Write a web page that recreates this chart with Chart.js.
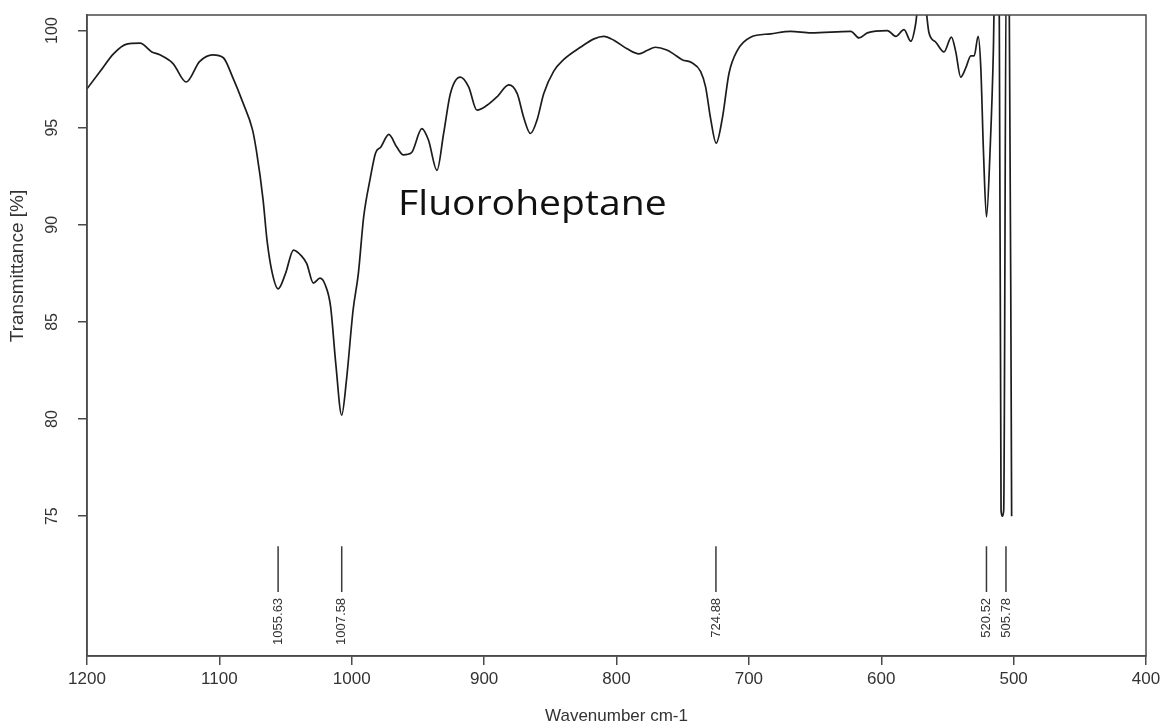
<!DOCTYPE html>
<html lang="en">
<head>
    <meta charset="UTF-8">
    <meta name="viewport" content="width=device-width, initial-scale=1.0">
    <script src="https://cdn.jsdelivr.net/npm/chart.js"></script>
    <style>
        body {
            margin: 0;
            background: #ffffff;
        }
        canvas#irChart {
            display: block;
        }
    </style>
</head>
<body>
    <canvas id="irChart" width="1165" height="727"></canvas>

    <script>
        // spectrum (wavenumber, transmittance %)
        const wavenumbers = [
            1200, 1190, 1180, 1170, 1160, 1151, 1145, 1135, 1125, 1115, 1105, 1097, 1090, 1082, 1075, 1072,
            1067, 1064, 1060, 1055.6, 1050, 1044, 1038, 1034, 1029, 1024, 1020, 1016, 1012, 1007.6, 1004, 999,
            995, 991, 986, 982, 978, 972, 966, 961, 955, 947, 942, 935.6, 930.6, 925.5, 918, 911.7,
            905.4, 897.8, 890, 881.4, 875, 870, 865, 860, 855, 847.5, 840, 827, 817, 809.6, 802, 792,
            783, 777, 770.6, 762, 757, 750.4, 743, 736.5, 732.7, 729, 724.7, 720, 715, 708.8, 698.7, 683.6,
            668.4, 653, 623, 616.8, 610.5, 595.4, 589, 582.8, 577.7, 574, 572, 568, 566, 564, 558.8, 552.6,
            547, 543.7, 540, 536, 532.3, 529.8, 526.8, 524.8, 522.8, 520.5, 517.8, 515.3, 514, 511, 509.5, 508.5,
            507.5, 505.5, 503.5, 501.5
        ];
        const transmittance = [
            97.0, 97.9, 98.8, 99.3, 99.35, 98.9, 98.75, 98.3, 97.35, 98.4, 98.75, 98.6, 97.6, 96.25, 94.9, 93.8,
            91.3, 89.2, 87.5, 86.7, 87.5, 88.7, 88.4, 88.0, 87.0, 87.25, 86.9, 85.8, 82.8, 80.2, 82.0, 85.6,
            87.5, 90.4, 92.4, 93.7, 94.0, 94.65, 94.0, 93.6, 93.7, 94.95, 94.35, 92.8, 94.7, 96.75, 97.6, 97.1,
            95.9, 96.15, 96.6, 97.2, 96.75, 95.5, 94.7, 95.4, 96.75, 97.9, 98.5, 99.15, 99.57, 99.7, 99.5, 99.06,
            98.8, 98.97, 99.14, 99.0, 98.8, 98.5, 98.34, 97.9, 97.1, 95.5, 94.2, 95.5, 97.8, 98.97, 99.66, 99.83,
            99.96, 99.88, 99.96, 99.62, 99.88, 100.0, 99.7, 100.05, 99.45, 100.35, 101.5, 102.0, 101.0, 99.9, 99.4, 98.9,
            99.66, 98.9, 97.6, 98.1, 98.7, 98.7, 99.7, 98.1, 93.8, 90.4, 93.8, 98.97, 104, 104, 75.3, 75.0,
            75.3, 104, 104, 75.0
        ];

        // labelled peaks
        const peakPositions = [1055.63, 1007.58, 724.88, 520.52, 505.78];
        const peakLabels = ['1055.63', '1007.58', '724.88', '520.52', '505.78'];

        // tick labels
        const xTicks = [1200, 1100, 1000, 900, 800, 700, 600, 500, 400];
        const yTicks = [75, 80, 85, 90, 95, 100];

        const FONT = '"Liberation Sans", Arial, sans-serif';
        const markTop = 73.45;    // top of the peak marker segments
        const markBottom = 71.1;  // bottom of the peak marker segments

        const spectrum = wavenumbers.map(function (w, i) {
            return { x: w, y: transmittance[i] };
        });

        const datasets = [{
            label: 'Fluoroheptane',
            data: spectrum,
            borderColor: '#1c1c1c',
            borderWidth: 1.7,
            pointRadius: 0,
            fill: false,
            cubicInterpolationMode: 'monotone'
        }];

        peakPositions.forEach(function (p) {
            datasets.push({
                label: 'peak ' + p,
                data: [{ x: p, y: markTop }, { x: p, y: markBottom }],
                borderColor: '#3a3a3a',
                borderWidth: 1.5,
                pointRadius: 0,
                fill: false
            });
        });

        // frame, rotated y labels, y title, peak labels and the compound name
        const extras = {
            id: 'extras',
            afterDraw: function (chart) {
                const ctx = chart.ctx;
                const area = chart.chartArea;
                const xs = chart.scales.x;
                const ys = chart.scales.y;
                ctx.save();

                ctx.strokeStyle = '#4a4a4a';
                ctx.lineWidth = 1.5;
                ctx.strokeRect(area.left, area.top, area.right - area.left, area.bottom - area.top);

                ctx.fillStyle = '#333';
                ctx.font = '16px ' + FONT;
                ctx.textAlign = 'center';
                ctx.textBaseline = 'middle';
                yTicks.forEach(function (v) {
                    ctx.save();
                    ctx.translate(area.left - 34, ys.getPixelForValue(v));
                    ctx.rotate(-Math.PI / 2);
                    ctx.fillText(String(v), 0, 0);
                    ctx.restore();
                });

                ctx.save();
                ctx.font = '19px ' + FONT;
                ctx.translate(18, 266);
                ctx.rotate(-Math.PI / 2);
                ctx.fillText('Transmittance [%]', 0, 0);
                ctx.restore();

                ctx.font = '13px ' + FONT;
                ctx.textAlign = 'right';
                peakPositions.forEach(function (p, i) {
                    ctx.save();
                    ctx.translate(xs.getPixelForValue(p), ys.getPixelForValue(markBottom) + 6);
                    ctx.rotate(-Math.PI / 2);
                    ctx.fillText(peakLabels[i], 0, 0);
                    ctx.restore();
                });

                ctx.fillStyle = '#111';
                ctx.font = '34px "Open Sans", "Noto Sans", sans-serif';
                ctx.textAlign = 'left';
                ctx.translate(xs.getPixelForValue(965), ys.getPixelForValue(91));
                ctx.scale(1.15, 1);
                ctx.fillText('Fluoroheptane', 0, 0);

                ctx.restore();
            }
        };

        new Chart(document.getElementById('irChart').getContext('2d'), {
            type: 'line',
            data: { datasets: datasets },
            options: {
                responsive: false,
                animation: false,
                layout: { padding: { top: 15, right: 19, left: 0, bottom: 0 } },
                plugins: {
                    legend: { display: false },
                    tooltip: { enabled: false }
                },
                scales: {
                    x: {
                        type: 'linear',
                        reverse: true,
                        min: 400,
                        max: 1200,
                        afterBuildTicks: function (scale) {
                            scale.ticks = xTicks.map(function (v) { return { value: v }; });
                        },
                        afterFit: function (scale) { scale.height = 71; },
                        grid: { drawOnChartArea: false, drawTicks: true, tickLength: 9, color: '#4a4a4a', lineWidth: 1.5 },
                        border: { display: true, color: '#4a4a4a', width: 1.5 },
                        ticks: {
                            color: '#333',
                            font: { family: FONT, size: 17 },
                            padding: 4,
                            maxRotation: 0,
                            autoSkip: false,
                            callback: function (value) { return String(value); }
                        },
                        title: {
                            display: true,
                            text: 'Wavenumber cm-1',
                            color: '#333',
                            font: { family: FONT, size: 17 },
                            padding: { top: 0, bottom: 0 }
                        }
                    },
                    y: {
                        type: 'linear',
                        min: 67.8,
                        max: 100.8,
                        afterBuildTicks: function (scale) {
                            scale.ticks = yTicks.map(function (v) { return { value: v }; });
                        },
                        afterFit: function (scale) { scale.width = 87; },
                        grid: { drawOnChartArea: false, drawTicks: true, tickLength: 9, color: '#4a4a4a', lineWidth: 1.5 },
                        border: { display: true, color: '#4a4a4a', width: 1.5 },
                        ticks: { display: false }
                    }
                }
            },
            plugins: [extras]
        });
    </script>
</body>
</html>
